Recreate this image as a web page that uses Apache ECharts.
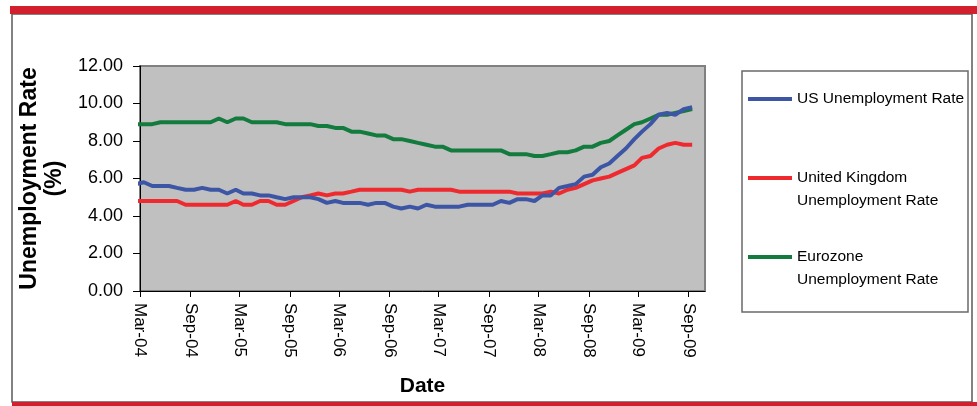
<!DOCTYPE html>
<html>
<head>
<meta charset="utf-8">
<script src="https://cdn.jsdelivr.net/npm/echarts@6/dist/echarts.min.js"></script>
<style>
  html, body { margin: 0; padding: 0; background: #ffffff; }
  #chart { width: 977px; height: 406px; }
</style>
</head>
<body>
<div id="chart"></div>
<script>
// Monthly observations, Feb 2004 – Sep 2009 (year-month, plotted mid-month)
const months = [
  '2004-02','2004-03','2004-04','2004-05','2004-06','2004-07','2004-08','2004-09','2004-10','2004-11','2004-12',
  '2005-01','2005-02','2005-03','2005-04','2005-05','2005-06','2005-07','2005-08','2005-09','2005-10','2005-11','2005-12',
  '2006-01','2006-02','2006-03','2006-04','2006-05','2006-06','2006-07','2006-08','2006-09','2006-10','2006-11','2006-12',
  '2007-01','2007-02','2007-03','2007-04','2007-05','2007-06','2007-07','2007-08','2007-09','2007-10','2007-11','2007-12',
  '2008-01','2008-02','2008-03','2008-04','2008-05','2008-06','2008-07','2008-08','2008-09','2008-10','2008-11','2008-12',
  '2009-01','2009-02','2009-03','2009-04','2009-05','2009-06','2009-07','2009-08','2009-09'
];

// Unemployment rates, %
const usRate = [
  5.7, 5.8, 5.6, 5.6, 5.6, 5.5, 5.4, 5.4, 5.5, 5.4, 5.4, 5.2,
  5.4, 5.2, 5.2, 5.1, 5.1, 5.0, 4.9, 5.0, 5.0, 5.0, 4.9, 4.7,
  4.8, 4.7, 4.7, 4.7, 4.6, 4.7, 4.7, 4.5, 4.4, 4.5, 4.4, 4.6,
  4.5, 4.5, 4.5, 4.5, 4.6, 4.6, 4.6, 4.6, 4.8, 4.7, 4.9, 4.9,
  4.8, 5.1, 5.1, 5.5, 5.6, 5.7, 6.1, 6.2, 6.6, 6.8, 7.2, 7.6,
  8.1, 8.5, 8.9, 9.4, 9.5, 9.4, 9.7, 9.8
];
const ukRate = [
  4.8, 4.8, 4.8, 4.8, 4.8, 4.8, 4.6, 4.6, 4.6, 4.6, 4.6, 4.6,
  4.8, 4.6, 4.6, 4.8, 4.8, 4.6, 4.6, 4.8, 5.0, 5.1, 5.2, 5.1,
  5.2, 5.2, 5.3, 5.4, 5.4, 5.4, 5.4, 5.4, 5.4, 5.3, 5.4, 5.4,
  5.4, 5.4, 5.4, 5.3, 5.3, 5.3, 5.3, 5.3, 5.3, 5.3, 5.2, 5.2,
  5.2, 5.2, 5.3, 5.2, 5.4, 5.5, 5.7, 5.9, 6.0, 6.1, 6.3, 6.5,
  6.7, 7.1, 7.2, 7.6, 7.8, 7.9, 7.8, 7.8
];
const euroRate = [
  8.9, 8.9, 8.9, 9.0, 9.0, 9.0, 9.0, 9.0, 9.0, 9.0, 9.2, 9.0,
  9.2, 9.2, 9.0, 9.0, 9.0, 9.0, 8.9, 8.9, 8.9, 8.9, 8.8, 8.8,
  8.7, 8.7, 8.5, 8.5, 8.4, 8.3, 8.3, 8.1, 8.1, 8.0, 7.9, 7.8,
  7.7, 7.7, 7.5, 7.5, 7.5, 7.5, 7.5, 7.5, 7.5, 7.3, 7.3, 7.3,
  7.2, 7.2, 7.3, 7.4, 7.4, 7.5, 7.7, 7.7, 7.9, 8.0, 8.3, 8.6,
  8.9, 9.0, 9.2, 9.4, 9.4, 9.5, 9.6, 9.7
];

// Date-axis tick labels (first of the month)
const tickLabels = ['Mar-04','Sep-04','Mar-05','Sep-05','Mar-06','Sep-06','Mar-07','Sep-07','Mar-08','Sep-08','Mar-09','Sep-09'];
const yTicks = [0, 2, 4, 6, 8, 10, 12];

const seriesNames = ['US Unemployment Rate', 'United Kingdom Unemployment Rate', 'Eurozone Unemployment Rate'];
const legendText = {
  'US Unemployment Rate': 'US Unemployment Rate',
  'United Kingdom Unemployment Rate': '\nUnited Kingdom\nUnemployment Rate',
  'Eurozone Unemployment Rate': '\nEurozone\nUnemployment Rate'
};

const DAY = 86400000;
const MON = ['Jan','Feb','Mar','Apr','May','Jun','Jul','Aug','Sep','Oct','Nov','Dec'];
// x positions are measured in days since 1 Jan 2000
const dayNo = (y, m, d) => (Date.UTC(y, m, d) - Date.UTC(2000, 0, 1)) / DAY;
const monthDay = (s) => { const [y, m] = s.split('-').map(Number); return dayNo(y, m - 1, 15); };
const labelDay = (s) => { const [mn, yy] = s.split('-'); return dayNo(2000 + Number(yy), MON.indexOf(mn), 1); };
const tickDays = tickLabels.map(labelDay);
const labelOf = (v) => { const k = tickDays.indexOf(v); return k >= 0 ? tickLabels[k] : ''; };

const pairs = (vals) => vals.map((v, i) => [monthDay(months[i]), v]);

const FONT = '"Liberation Sans", Arial, Helvetica, sans-serif';
const colors = ['#3c55a5', '#ee2a2f', '#127b3d'];

const chart = echarts.init(document.getElementById('chart'), null, { renderer: 'canvas' });

const legendTops = [87.5, 143.5, 222.5];

chart.setOption({
  animation: false,
  backgroundColor: '#ffffff',
  color: colors,
  textStyle: { fontFamily: FONT },
  grid: {
    left: 140, top: 66, right: 272, bottom: 115,
    show: true, backgroundColor: '#c0c0c0', borderColor: '#808080', borderWidth: 2
  },
  xAxis: {
    type: 'value',
    min: labelDay('Mar-04'),
    max: labelDay('Nov-09'),
    name: 'Date',
    nameLocation: 'middle',
    nameGap: 85,
    nameTextStyle: { fontFamily: FONT, fontSize: 21, fontWeight: 'bold', color: '#000' },
    axisLine: { show: true, onZero: false, lineStyle: { color: '#000', width: 1 } },
    axisTick: { show: true, length: 6, lineStyle: { color: '#000' }, customValues: tickDays },
    axisLabel: {
      customValues: tickDays,
      formatter: (v) => labelOf(v),
      rotate: -90, margin: 12, fontSize: 17, color: '#000', fontFamily: FONT
    },
    splitLine: { show: false }
  },
  yAxis: {
    type: 'value',
    min: yTicks[0], max: yTicks[yTicks.length - 1], interval: 2,
    name: 'Unemployment Rate\n(%)',
    nameLocation: 'middle',
    nameRotate: 90,
    nameGap: 69,
    nameTextStyle: { fontFamily: FONT, fontSize: 23, fontWeight: 'bold', color: '#000', lineHeight: 25 },
    axisLine: { show: true, lineStyle: { color: '#000', width: 1 } },
    axisTick: { show: true, length: 7, lineStyle: { color: '#000' } },
    axisLabel: { formatter: (v) => v.toFixed(2), margin: 17, fontSize: 18, color: '#000', fontFamily: FONT },
    splitLine: { show: false }
  },
  legend: seriesNames.map((n, i) => ({
    data: [n],
    left: 748, top: legendTops[i],
    padding: 0,
    icon: 'rect', itemWidth: 44, itemHeight: 4, itemGap: 0,
    selectedMode: false,
    formatter: (name) => legendText[name],
    textStyle: { fontFamily: FONT, fontSize: 15.5, lineHeight: 23, color: '#000' }
  })),
  series: [
    { name: seriesNames[0], type: 'line', data: pairs(usRate), showSymbol: false, clip: false, lineStyle: { width: 4 }, z: 3 },
    { name: seriesNames[1], type: 'line', data: pairs(ukRate), showSymbol: false, clip: false, lineStyle: { width: 4 }, z: 2 },
    { name: seriesNames[2], type: 'line', data: pairs(euroRate), showSymbol: false, clip: false, lineStyle: { width: 4 }, z: 1 }
  ],
  graphic: [
    // outer frame
    { type: 'rect', silent: true, z: -10, shape: { x: 12, y: 14, width: 960, height: 388 },
      style: { fill: 'none', stroke: '#5a5a5a', lineWidth: 1.5 } },
    // red rules top and bottom
    { type: 'rect', silent: true, shape: { x: 10, y: 6, width: 967, height: 8 }, style: { fill: '#d3202f' } },
    { type: 'rect', silent: true, shape: { x: 12, y: 402, width: 965, height: 4 }, style: { fill: '#d3202f' } },
    // legend box
    { type: 'rect', silent: true, z: -5, shape: { x: 742, y: 71, width: 226, height: 241 },
      style: { fill: '#ffffff', stroke: '#6a6a6a', lineWidth: 1.5 } }
  ]
});
</script>
</body>
</html>
